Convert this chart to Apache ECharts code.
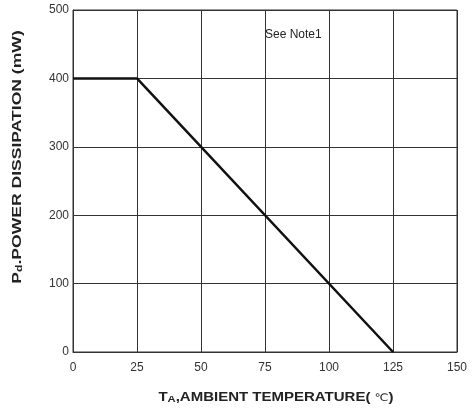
<!DOCTYPE html>
<html><head><meta charset="utf-8">
<script src="https://cdn.jsdelivr.net/npm/echarts@6/dist/echarts.min.js"></script>
<style>html,body{margin:0;padding:0;background:#fff}#c{width:472px;height:411px}</style>
</head><body><div id="c"></div>
<script>
const temps = [0, 25, 125];
const power = [400, 400, 0];
const xTicks = [0, 25, 50, 75, 100, 125, 150];
const yTicks = [0, 100, 200, 300, 400, 500];

const chart = echarts.init(document.getElementById('c'));
const F = 'Liberation Sans, Arial, sans-serif';
chart.setOption({
  animation: false,
  grid: {left: 73, right: 15, top: 10, bottom: 59, show: true, borderColor: '#333', borderWidth: 1},
  xAxis: {
    type: 'value', min: 0, max: 150, interval: 25,
    axisLine: {show: true, lineStyle: {color: '#333', width: 1}},
    axisTick: {show: false},
    axisLabel: {color: '#333', fontFamily: F, fontSize: 12, margin: 10},
    splitLine: {show: true, lineStyle: {color: '#333', width: 1}}
  },
  yAxis: {
    type: 'value', min: 0, max: 500, interval: 100,
    axisLine: {show: true, lineStyle: {color: '#333', width: 1}},
    axisTick: {show: false},
    axisLabel: {color: '#333', fontFamily: F, fontSize: 12, margin: 4},
    splitLine: {show: true, lineStyle: {color: '#333', width: 1}}
  },
  graphic: [
    {type: 'text', left: 265, top: 29, style: {text: 'See Note1', font: '12px ' + F, fill: '#222'}},
    {type: 'text', x: 276, y: 398, scaleX: 1.25, style: {
      text: '{b|T}{s|A}{b|,AMBIENT TEMPERATURE( }{c|℃}{b|)}',
      align: 'center', verticalAlign: 'middle',
      rich: {
        b: {fontFamily: F, fontWeight: 'bold', fontSize: 12, fill: '#222'},
        s: {fontFamily: F, fontWeight: 'bold', fontSize: 9, fill: '#222', padding: [4,0,0,0]},
        c: {fontFamily: 'DejaVu Sans', fontSize: 10, fill: '#222'}
      }}},
    {type: 'text', x: 17, y: 157, rotation: Math.PI/2, scaleX: 1.35, style: {
      text: '{b|P}{s|d}{b|.POWER DISSIPATION (mW)}',
      align: 'center', verticalAlign: 'middle',
      rich: {
        b: {fontFamily: F, fontWeight: 'bold', fontSize: 13, fill: '#222'},
        s: {fontFamily: F, fontWeight: 'bold', fontSize: 9, fill: '#222', padding: [5,0,0,0]}
      }}}
  ],
  series: [{
    type: 'line', data: temps.map((t, i) => [t, power[i]]),
    symbol: 'none', lineStyle: {color: '#111', width: 2.5}
  }]
});
</script></body></html>
